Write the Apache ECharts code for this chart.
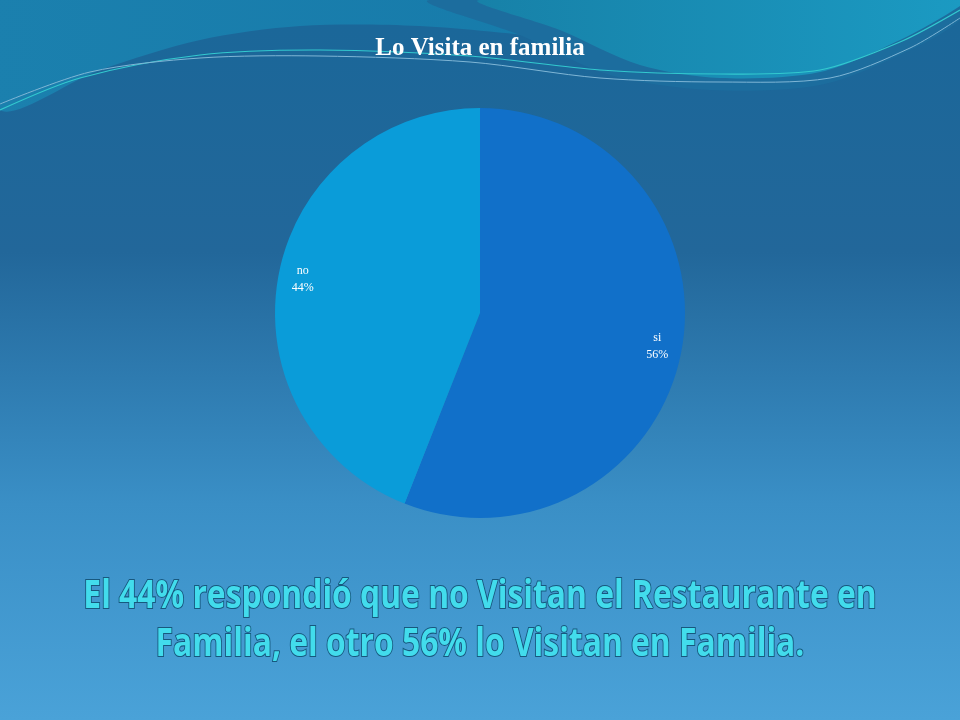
<!DOCTYPE html>
<html>
<head>
<meta charset="utf-8">
<script src="https://cdn.jsdelivr.net/npm/echarts@6/dist/echarts.min.js"></script>
<style>
html,body{margin:0;padding:0;width:960px;height:720px;overflow:hidden;}
#chart{width:960px;height:720px;}
</style>
</head>
<body>
<div id="chart"></div>
<script>
const chartTitle = 'Lo Visita en familia';
const categories = ['si', 'no'];
const values = [56, 44];
const sliceColors = ['#1170C9', '#0A9CD9'];
const captionLines = ['El 44% respondió que no Visitan el Restaurante en', 'Familia, el otro 56% lo Visitan en Familia.'];

const pieData = categories.map((c, i) => ({ name: c, value: values[i], itemStyle: { color: sliceColors[i] } }));
const labelData = categories.map((c, i) => ({ name: c, value: values[i] }));

function captionText(txt, y) {
  return {
    type: 'text', silent: true, x: 480, y: y, scaleX: 0.86, scaleY: 1.04, z: 10,
    style: {
      text: txt, align: 'center', verticalAlign: 'middle',
      fill: '#42DCEC', font: 'bold 37px "Open Sans", sans-serif',
      stroke: '#17587e', lineWidth: 2,
      shadowColor: 'rgba(0,15,40,0.75)', shadowBlur: 3, shadowOffsetX: 2, shadowOffsetY: 3
    }
  };
}

const chart = echarts.init(document.getElementById('chart'));
chart.setOption({
  backgroundColor: {
    type: 'linear', x: 0, y: 0, x2: 0, y2: 1,
    colorStops: [
      { offset: 0, color: '#1a6799' },
      { offset: 0.35, color: '#22679a' },
      { offset: 0.7, color: '#3a8fc6' },
      { offset: 1, color: '#4aa2d8' }
    ]
  },
  graphic: [
    { type: 'polygon', silent: true, z: -10,
      shape: { points: [[0,0],[960,0],[960,2],[800,20],[680,45],[560,38],[420,26],[300,26],[200,40],[100,70],[0,110]], smooth: 0.3 },
      style: { fill: { type: 'linear', x: 0, y: 0, x2: 1, y2: 0, colorStops: [{ offset: 0, color: '#1b80ae' }, { offset: 1, color: '#1478a8' }] } } },
    { type: 'polygon', silent: true, z: -9,
      shape: { points: [[430,0],[520,35],[610,75],[710,90],[820,85],[900,55],[960,20],[960,0]], smooth: 0.3 },
      style: { fill: '#1c6d9e' } },
    { type: 'polygon', silent: true, z: -8,
      shape: { points: [[480,0],[560,30],[640,65],[720,78],[820,72],[900,40],[960,6],[960,0]], smooth: 0.3 },
      style: { fill: { type: 'linear', x: 0, y: 0, x2: 1, y2: 0, colorStops: [{ offset: 0, color: '#1781a8' }, { offset: 1, color: '#1b9ac2' }] } } },
    { type: 'polyline', silent: true, z: -7,
      shape: { points: [[0,110],[80,78],[200,55],[320,50],[470,56],[600,70],[720,74],[820,70],[900,42],[960,10]], smooth: 0.3 },
      style: { stroke: '#33c9cf', lineWidth: 1.2, fill: null } },
    { type: 'polyline', silent: true, z: -7,
      shape: { points: [[0,104],[90,72],[200,58],[320,56],[470,62],[600,78],[720,82],[830,78],[910,48],[960,18]], smooth: 0.3 },
      style: { stroke: '#7fb6d6', lineWidth: 1, fill: null } },
    captionText(captionLines[0], 597),
    captionText(captionLines[1], 645)
  ],
  title: [
    { text: chartTitle, left: 'center', top: 31,
      textStyle: { color: '#ffffff', fontFamily: 'Liberation Serif', fontWeight: 'bold', fontSize: 25 } }
  ],
  series: [
    { type: 'pie', center: [480, 313], radius: 205, startAngle: 90, clockwise: true,
      silent: true, label: { show: false }, labelLine: { show: false },
      data: pieData },
    { type: 'pie', center: [480, 313], radius: [150, 205], startAngle: 90, clockwise: true,
      silent: true, itemStyle: { color: 'rgba(0,0,0,0)' }, labelLine: { show: false },
      label: { show: true, position: 'inside', formatter: '{b}\n{d}%', color: '#ffffff',
        fontFamily: 'Liberation Serif', fontSize: 12, lineHeight: 17 },
      data: labelData }
  ]
});
</script>
</body>
</html>
